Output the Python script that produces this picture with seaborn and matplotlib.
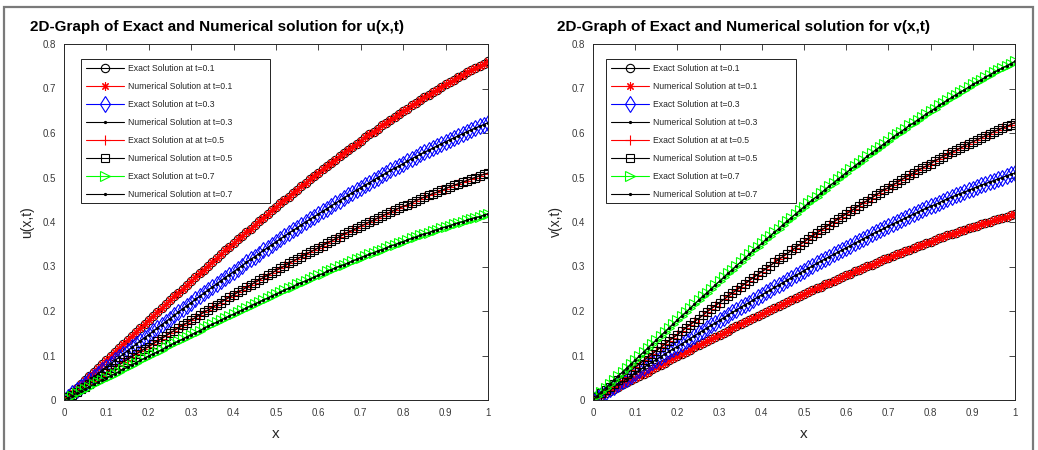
import numpy as np
import matplotlib
matplotlib.use("Agg")
import matplotlib.pyplot as plt
import seaborn as sns
from matplotlib.ticker import FuncFormatter
from matplotlib.patches import Rectangle

# sample grid on [0, 1]
x = np.linspace(0.0, 1.0, 101)

# u(x, t) profiles at t = 0.1, 0.3, 0.5, 0.7
u_t01 = [0.000, 0.009, 0.018, 0.027, 0.036, 0.045, 0.054, 0.063, 0.072, 0.081,
         0.090, 0.099, 0.108, 0.117, 0.126, 0.135, 0.144, 0.153, 0.162, 0.171,
         0.180, 0.189, 0.197, 0.206, 0.215, 0.224, 0.233, 0.241, 0.250, 0.259,
         0.267, 0.276, 0.285, 0.293, 0.302, 0.310, 0.319, 0.327, 0.336, 0.344,
         0.352, 0.361, 0.369, 0.377, 0.385, 0.394, 0.402, 0.410, 0.418, 0.426,
         0.434, 0.442, 0.450, 0.457, 0.465, 0.473, 0.481, 0.488, 0.496, 0.503,
         0.511, 0.518, 0.526, 0.533, 0.540, 0.548, 0.555, 0.562, 0.569, 0.576,
         0.583, 0.590, 0.597, 0.603, 0.610, 0.617, 0.623, 0.630, 0.636, 0.643,
         0.649, 0.655, 0.662, 0.668, 0.674, 0.680, 0.686, 0.692, 0.697, 0.703,
         0.709, 0.714, 0.720, 0.725, 0.731, 0.736, 0.741, 0.746, 0.751, 0.756,
         0.761]
u_t03 = [0.000, 0.007, 0.015, 0.022, 0.030, 0.037, 0.044, 0.052, 0.059, 0.067,
         0.074, 0.081, 0.089, 0.096, 0.103, 0.111, 0.118, 0.125, 0.133, 0.140,
         0.147, 0.154, 0.162, 0.169, 0.176, 0.183, 0.190, 0.198, 0.205, 0.212,
         0.219, 0.226, 0.233, 0.240, 0.247, 0.254, 0.261, 0.268, 0.275, 0.282,
         0.288, 0.295, 0.302, 0.309, 0.316, 0.322, 0.329, 0.336, 0.342, 0.349,
         0.355, 0.362, 0.368, 0.375, 0.381, 0.387, 0.394, 0.400, 0.406, 0.412,
         0.418, 0.424, 0.430, 0.436, 0.442, 0.448, 0.454, 0.460, 0.466, 0.472,
         0.477, 0.483, 0.488, 0.494, 0.500, 0.505, 0.510, 0.516, 0.521, 0.526,
         0.531, 0.537, 0.542, 0.547, 0.552, 0.557, 0.561, 0.566, 0.571, 0.576,
         0.580, 0.585, 0.589, 0.594, 0.598, 0.603, 0.607, 0.611, 0.615, 0.619,
         0.623]
u_t05 = [0.000, 0.006, 0.012, 0.018, 0.024, 0.030, 0.036, 0.042, 0.048, 0.055,
         0.061, 0.067, 0.073, 0.079, 0.085, 0.091, 0.097, 0.103, 0.109, 0.115,
         0.120, 0.126, 0.132, 0.138, 0.144, 0.150, 0.156, 0.162, 0.168, 0.173,
         0.179, 0.185, 0.191, 0.197, 0.202, 0.208, 0.214, 0.219, 0.225, 0.231,
         0.236, 0.242, 0.247, 0.253, 0.258, 0.264, 0.269, 0.275, 0.280, 0.285,
         0.291, 0.296, 0.301, 0.307, 0.312, 0.317, 0.322, 0.327, 0.332, 0.337,
         0.342, 0.347, 0.352, 0.357, 0.362, 0.367, 0.372, 0.377, 0.381, 0.386,
         0.391, 0.395, 0.400, 0.404, 0.409, 0.413, 0.418, 0.422, 0.427, 0.431,
         0.435, 0.439, 0.443, 0.448, 0.452, 0.456, 0.460, 0.464, 0.467, 0.471,
         0.475, 0.479, 0.483, 0.486, 0.490, 0.493, 0.497, 0.500, 0.504, 0.507,
         0.510]
u_t07 = [0.000, 0.005, 0.010, 0.015, 0.020, 0.025, 0.030, 0.035, 0.040, 0.045,
         0.050, 0.055, 0.059, 0.064, 0.069, 0.074, 0.079, 0.084, 0.089, 0.094,
         0.099, 0.104, 0.108, 0.113, 0.118, 0.123, 0.128, 0.132, 0.137, 0.142,
         0.147, 0.151, 0.156, 0.161, 0.166, 0.170, 0.175, 0.180, 0.184, 0.189,
         0.193, 0.198, 0.202, 0.207, 0.212, 0.216, 0.220, 0.225, 0.229, 0.234,
         0.238, 0.242, 0.247, 0.251, 0.255, 0.260, 0.264, 0.268, 0.272, 0.276,
         0.280, 0.284, 0.289, 0.293, 0.297, 0.301, 0.304, 0.308, 0.312, 0.316,
         0.320, 0.324, 0.327, 0.331, 0.335, 0.338, 0.342, 0.346, 0.349, 0.353,
         0.356, 0.360, 0.363, 0.366, 0.370, 0.373, 0.376, 0.380, 0.383, 0.386,
         0.389, 0.392, 0.395, 0.398, 0.401, 0.404, 0.407, 0.410, 0.412, 0.415,
         0.418]

# v(x, t) profiles: v at time t follows u at time 0.8 - t
v_t01 = u_t07
v_t03 = u_t05
v_t05 = u_t03
v_t07 = u_t01

legend_labels = [
    "Exact Solution at t=0.1",
    "Numerical Solution at t=0.1",
    "Exact Solution at t=0.3",
    "Numerical Solution at t=0.3",
    "Exact Solution at at t=0.5",
    "Numerical Solution at t=0.5",
    "Exact Solution at t=0.7",
    "Numerical Solution at t=0.7",
]

x_ticks = [0, 0.1, 0.2, 0.3, 0.4, 0.5, 0.6, 0.7, 0.8, 0.9, 1]
y_ticks = [0, 0.1, 0.2, 0.3, 0.4, 0.5, 0.6, 0.7, 0.8]

styles = [
    dict(color="black", marker="o", markersize=6, markerfacecolor="none", markeredgecolor="black"),
    dict(color="red", marker=(8, 2, 0), markersize=6, markerfacecolor="red", markeredgecolor="red"),
    dict(color="blue", marker="d", markersize=8, markerfacecolor="none", markeredgecolor="blue"),
    dict(color="black", marker=".", markersize=3, markerfacecolor="black", markeredgecolor="black"),
    dict(color="red", marker="+", markersize=7, markerfacecolor="red", markeredgecolor="red"),
    dict(color="black", marker="s", markersize=5.5, markerfacecolor="none", markeredgecolor="black"),
    dict(color="#00ff00", marker=">", markersize=7, markerfacecolor="none", markeredgecolor="#00ff00"),
    dict(color="black", marker=".", markersize=3, markerfacecolor="black", markeredgecolor="black"),
]

sns.set_style("white")
plt.rcParams["font.family"] = ["Liberation Sans", "DejaVu Sans"]

fig = plt.figure(figsize=(10.38, 4.5), dpi=100)
W, H = 1038.0, 450.0

# gray outer frame (open at the bottom edge)
fig.patches.append(Rectangle((4 / W, -0.05), 1029 / W, 1.05 - 7 / H, transform=fig.transFigure,
                             fill=False, edgecolor="#7a7a7a", linewidth=1.6))

panels = [
    dict(rect=(64 / W, 1 - 400 / H, 424 / W, 356 / H),
         series=[u_t01, u_t01, u_t03, u_t03, u_t05, u_t05, u_t07, u_t07],
         ylabel="u(x,t)", title="2D-Graph of Exact and Numerical solution for u(x,t)", tx=30,
         box=(0.040, 0.553, 0.446, 0.405)),
    dict(rect=(593 / W, 1 - 400 / H, 422 / W, 356 / H),
         series=[v_t01, v_t01, v_t03, v_t03, v_t05, v_t05, v_t07, v_t07],
         ylabel="v(x,t)", title="2D-Graph of Exact and Numerical solution for v(x,t)", tx=557,
         box=(0.031, 0.553, 0.450, 0.405)),
]

for p in panels:
    ax = fig.add_axes(p["rect"])
    for label, y, st in zip(legend_labels, p["series"], styles):
        sns.lineplot(x=x, y=y, ax=ax, label=label, estimator=None, sort=False,
                     linewidth=0.8, markeredgewidth=0.8, **st)
    ax.set_xlim(0, 1)
    ax.set_ylim(0, 0.8)
    ax.set_xticks(x_ticks)
    ax.set_yticks(y_ticks)
    fmt = FuncFormatter(lambda v, _: f"{v:g}")
    ax.xaxis.set_major_formatter(fmt)
    ax.yaxis.set_major_formatter(fmt)
    ax.tick_params(direction="in", top=True, right=True, length=4, width=0.6,
                   labelsize=7, labelcolor="#3a3a3a", color="#262626", pad=6)
    for s in ax.spines.values():
        s.set_color("#262626")
        s.set_linewidth(0.7)
    ax.set_xlabel("x", fontsize=11, color="#262626", labelpad=6)
    ax.set_ylabel(p["ylabel"], fontsize=10, color="#262626", labelpad=6)

    # legend box with the wide right margin
    bx, by, bw, bh = p["box"]
    ax.add_patch(Rectangle((bx, by), bw, bh, transform=ax.transAxes, facecolor="white",
                           edgecolor="black", linewidth=0.6, zorder=4.5, clip_on=False))
    leg = ax.legend(loc="upper left", bbox_to_anchor=(bx, by + bh), fontsize=6.2,
                    handlelength=4.4, labelspacing=1.05, borderpad=0.55,
                    handletextpad=0.5, frameon=False, borderaxespad=0)
    leg.set_zorder(5)
    fig.text(p["tx"] / W, 1 - 27 / H, p["title"], fontsize=11, fontweight="bold",
             ha="left", va="center", color="black")

fig.savefig("out.png", dpi=100)
